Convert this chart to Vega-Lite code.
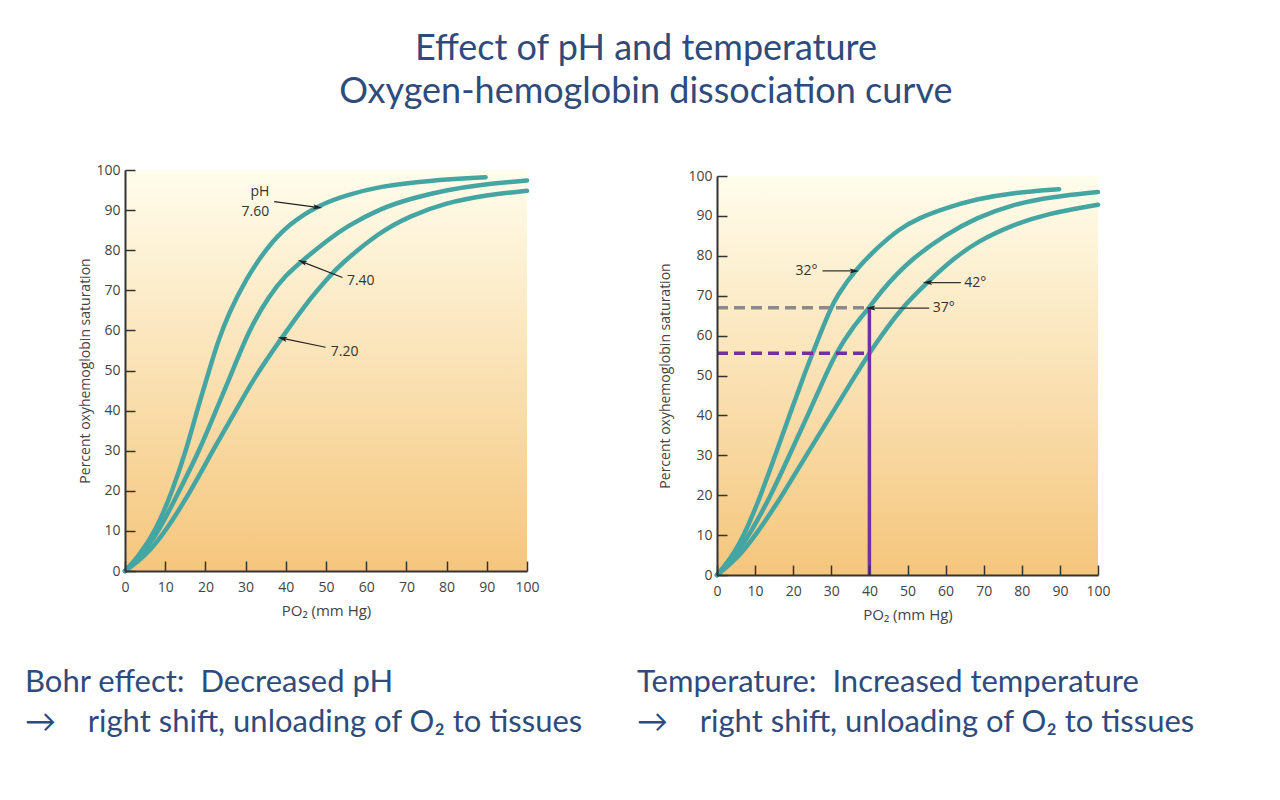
{
  "$schema": "https://vega.github.io/schema/vega-lite/v6.json",
  "background": "white",
  "padding": {"left": 25, "top": 31, "right": 10, "bottom": 10},
  "bounds": "flush",
  "spacing": 190,
  "title": {
    "text": ["Effect of pH and temperature", "Oxygen-hemoglobin dissociation curve"],
    "font": "Lato",
    "fontSize": 36,
    "fontWeight": "normal",
    "color": "#2F4B7C",
    "lineHeight": 43,
    "anchor": "middle",
    "dx": 36,
    "offset": 52
  },
  "datasets": {
    "ph": [
      {"po2": 0, "sat": 0, "ph": "7.60"}, {"po2": 3, "sat": 3.2, "ph": "7.60"}, {"po2": 7.7, "sat": 10, "ph": "7.60"}, {"po2": 11.8, "sat": 20, "ph": "7.60"}, {"po2": 15.2, "sat": 30, "ph": "7.60"}, {"po2": 17.9, "sat": 40, "ph": "7.60"}, {"po2": 20.5, "sat": 48.5, "ph": "7.60"}, {"po2": 23, "sat": 57, "ph": "7.60"}, {"po2": 25.9, "sat": 64.5, "ph": "7.60"}, {"po2": 30.1, "sat": 72.8, "ph": "7.60"}, {"po2": 35, "sat": 80.3, "ph": "7.60"}, {"po2": 40.8, "sat": 86.6, "ph": "7.60"}, {"po2": 48.3, "sat": 91.3, "ph": "7.60"}, {"po2": 55, "sat": 93.7, "ph": "7.60"}, {"po2": 63.2, "sat": 95.9, "ph": "7.60"}, {"po2": 75.6, "sat": 97.4, "ph": "7.60"}, {"po2": 89.7, "sat": 98.2, "ph": "7.60"},
      {"po2": 0, "sat": 0, "ph": "7.40"}, {"po2": 4, "sat": 3.8, "ph": "7.40"}, {"po2": 8.5, "sat": 10, "ph": "7.40"}, {"po2": 13.5, "sat": 20, "ph": "7.40"}, {"po2": 18.5, "sat": 30, "ph": "7.40"}, {"po2": 22.6, "sat": 40, "ph": "7.40"}, {"po2": 26, "sat": 48, "ph": "7.40"}, {"po2": 30.9, "sat": 60.3, "ph": "7.40"}, {"po2": 35.9, "sat": 68.7, "ph": "7.40"}, {"po2": 40, "sat": 73.8, "ph": "7.40"}, {"po2": 44.1, "sat": 77.4, "ph": "7.40"}, {"po2": 50.8, "sat": 82.8, "ph": "7.40"}, {"po2": 55, "sat": 85.8, "ph": "7.40"}, {"po2": 63.2, "sat": 90.3, "ph": "7.40"}, {"po2": 71.5, "sat": 93, "ph": "7.40"}, {"po2": 80, "sat": 95, "ph": "7.40"}, {"po2": 88, "sat": 96.3, "ph": "7.40"}, {"po2": 100, "sat": 97.4, "ph": "7.40"},
      {"po2": 0, "sat": 0, "ph": "7.20"}, {"po2": 5, "sat": 3.6, "ph": "7.20"}, {"po2": 10.2, "sat": 10, "ph": "7.20"}, {"po2": 16.4, "sat": 20, "ph": "7.20"}, {"po2": 21.8, "sat": 30, "ph": "7.20"}, {"po2": 27.6, "sat": 40, "ph": "7.20"}, {"po2": 32, "sat": 48, "ph": "7.20"}, {"po2": 39.2, "sat": 58.5, "ph": "7.20"}, {"po2": 46.6, "sat": 68.7, "ph": "7.20"}, {"po2": 50.8, "sat": 73.4, "ph": "7.20"}, {"po2": 53.2, "sat": 76.1, "ph": "7.20"}, {"po2": 63.2, "sat": 84.5, "ph": "7.20"}, {"po2": 71, "sat": 88.6, "ph": "7.20"}, {"po2": 79.8, "sat": 91.8, "ph": "7.20"}, {"po2": 90, "sat": 93.8, "ph": "7.20"}, {"po2": 100, "sat": 94.8, "ph": "7.20"}
    ],
    "temp": [
      {"po2": 0, "sat": 0, "t": "32"}, {"po2": 3.5, "sat": 4, "t": "32"}, {"po2": 7.2, "sat": 10, "t": "32"}, {"po2": 11.5, "sat": 20, "t": "32"}, {"po2": 15.3, "sat": 30, "t": "32"}, {"po2": 19, "sat": 40, "t": "32"}, {"po2": 22.8, "sat": 50, "t": "32"}, {"po2": 25.1, "sat": 55.6, "t": "32"}, {"po2": 26.9, "sat": 60, "t": "32"}, {"po2": 29.9, "sat": 67, "t": "32"}, {"po2": 31.6, "sat": 70, "t": "32"}, {"po2": 36, "sat": 76.2, "t": "32"}, {"po2": 42.6, "sat": 82.5, "t": "32"}, {"po2": 47.8, "sat": 86.7, "t": "32"}, {"po2": 53, "sat": 89.5, "t": "32"}, {"po2": 60.1, "sat": 92, "t": "32"}, {"po2": 68, "sat": 94.2, "t": "32"}, {"po2": 77.6, "sat": 95.8, "t": "32"}, {"po2": 89.8, "sat": 96.7, "t": "32"},
      {"po2": 0, "sat": 0, "t": "37"}, {"po2": 4, "sat": 3.8, "t": "37"}, {"po2": 8.5, "sat": 10, "t": "37"}, {"po2": 14.2, "sat": 20, "t": "37"}, {"po2": 19, "sat": 30, "t": "37"}, {"po2": 23.8, "sat": 40, "t": "37"}, {"po2": 28, "sat": 49, "t": "37"}, {"po2": 31.2, "sat": 55.6, "t": "37"}, {"po2": 35.5, "sat": 62, "t": "37"}, {"po2": 40, "sat": 67, "t": "37"}, {"po2": 42.6, "sat": 70.6, "t": "37"}, {"po2": 50, "sat": 78.5, "t": "37"}, {"po2": 60.1, "sat": 85.4, "t": "37"}, {"po2": 68, "sat": 89.5, "t": "37"}, {"po2": 77.6, "sat": 92.9, "t": "37"}, {"po2": 88, "sat": 94.8, "t": "37"}, {"po2": 100, "sat": 96, "t": "37"},
      {"po2": 0, "sat": 0, "t": "42"}, {"po2": 5, "sat": 3.8, "t": "42"}, {"po2": 10.2, "sat": 10, "t": "42"}, {"po2": 17.2, "sat": 20, "t": "42"}, {"po2": 23.4, "sat": 30, "t": "42"}, {"po2": 29.9, "sat": 40, "t": "42"}, {"po2": 35.6, "sat": 49, "t": "42"}, {"po2": 40, "sat": 55.6, "t": "42"}, {"po2": 42.6, "sat": 59.2, "t": "42"}, {"po2": 48, "sat": 66.5, "t": "42"}, {"po2": 55.7, "sat": 73.8, "t": "42"}, {"po2": 62, "sat": 79.3, "t": "42"}, {"po2": 68.8, "sat": 83.8, "t": "42"}, {"po2": 77, "sat": 87.5, "t": "42"}, {"po2": 86.3, "sat": 90.5, "t": "42"}, {"po2": 100, "sat": 92.8, "t": "42"}
    ],
    "phText": [
      {"label": "pH", "x": 35.9, "y": 94.6, "side": "right"},
      {"label": "7.60", "x": 35.9, "y": 89.6, "side": "right"},
      {"label": "7.40", "x": 55.2, "y": 72.4, "side": "left"},
      {"label": "7.20", "x": 51.2, "y": 54.7, "side": "left"}
    ],
    "phArrows": [
      {"label": "7.60", "x": 37.1, "y": 92.1, "x2": 47.9, "y2": 90.7},
      {"label": "7.40", "x": 54.1, "y": 73.2, "x2": 44.1, "y2": 77.1},
      {"label": "7.20", "x": 49.9, "y": 55.8, "x2": 39.2, "y2": 58.0}
    ],
    "tText": [
      {"label": "32°", "x": 20.6, "y": 76.2},
      {"label": "42°", "x": 64.9, "y": 73.3},
      {"label": "37°", "x": 56.6, "y": 66.9}
    ],
    "tArrows": [
      {"label": "32°", "x": 27.7, "y": 76.2, "x2": 36.0, "y2": 76.2, "dir": "right"},
      {"label": "42°", "x": 64.0, "y": 73.3, "x2": 55.3, "y2": 73.3, "dir": "left"},
      {"label": "37°", "x": 55.7, "y": 66.9, "x2": 40.4, "y2": 66.9, "dir": "left"}
    ],
    "guides": [
      {"kind": "gray", "x": 0, "y": 67, "x2": 40, "y2": 67},
      {"kind": "purple", "x": 0, "y": 55.6, "x2": 40, "y2": 55.6}
    ],
    "vguide": [
      {"x": 40, "y": 0, "y2": 67}
    ]
  },
  "config": {
    "view": {"stroke": null},
    "axis": {
      "grid": false,
      "zindex": 1,
      "domainColor": "#333333",
      "domainWidth": 2,
      "tickColor": "#333333",
      "tickWidth": 1.5,
      "labelFont": "Open Sans",
      "labelFontSize": 14,
      "labelColor": "#444444",
      "titleFont": "Open Sans",
      "titleFontSize": 14,
      "titleFontWeight": "normal",
      "titleColor": "#444444"
    },
    "axisX": {"tickSize": -10, "labelPadding": 19, "titlePadding": 9, "titleFontSize": 15, "values": [0, 10, 20, 30, 40, 50, 60, 70, 80, 90, 100], "labelFlush": false},
    "axisY": {"tickSize": -10, "labelPadding": 15, "titlePadding": 3, "values": [0, 10, 20, 30, 40, 50, 60, 70, 80, 90, 100]}
  },
  "hconcat": [
    {
      "width": 402,
      "height": 401,
      "title": {
        "text": ["Bohr effect:\u00a0 Decreased pH", "\u2192\u00a0\u00a0\u00a0\u00a0right shift, unloading of O\u2082 to tissues"],
        "orient": "bottom",
        "anchor": "start",
        "frame": "group",
        "dx": -100,
        "font": "Lato",
        "fontSize": 31,
        "fontWeight": "normal",
        "color": "#2F4B7C",
        "lineHeight": 40,
        "offset": 50
      },
      "layer": [
        {
          "data": {"values": [{}]},
          "mark": {"type": "rect", "fill": {"gradient": "linear", "x1": 0, "y1": 0, "x2": 0, "y2": 1, "stops": [{"offset": 0, "color": "#FFFDEC"}, {"offset": 1, "color": "#F5C67C"}]}},
          "encoding": {
            "x": {"datum": 0, "type": "quantitative", "scale": {"domain": [0, 100], "nice": false}, "title": "PO\u2082 (mm Hg)", "axis": {"zindex": 1}},
            "x2": {"datum": 100},
            "y": {"datum": 0, "type": "quantitative", "scale": {"domain": [0, 100], "nice": false}, "title": "Percent oxyhemoglobin saturation", "axis": {"zindex": 1}},
            "y2": {"datum": 100}
          }
        },
        {
          "data": {"name": "ph"},
          "mark": {"type": "line", "color": "#44A5A2", "strokeWidth": 4.5, "interpolate": "basis", "strokeCap": "round"},
          "encoding": {
            "x": {"field": "po2", "type": "quantitative", "title": "PO\u2082 (mm Hg)"},
            "y": {"field": "sat", "type": "quantitative", "title": "Percent oxyhemoglobin saturation"},
            "detail": {"field": "ph"}
          }
        },
        {
          "data": {"name": "phArrows"},
          "mark": {"type": "rule", "color": "#222222", "strokeWidth": 1.2},
          "encoding": {
            "x": {"field": "x", "type": "quantitative", "title": "PO\u2082 (mm Hg)"},
            "y": {"field": "y", "type": "quantitative", "title": "Percent oxyhemoglobin saturation"},
            "x2": {"field": "x2"},
            "y2": {"field": "y2"}
          }
        },
        {
          "data": {"name": "phArrows"},
          "transform": [{"filter": "datum.label == '7.60'"}],
          "mark": {"type": "point", "shape": "M0,-1L0.5,0.9L0,0.5L-0.5,0.9Z", "filled": true, "color": "#222222", "opacity": 1, "size": 100, "angle": 98},
          "encoding": {"x": {"field": "x2", "type": "quantitative", "title": "PO\u2082 (mm Hg)"}, "y": {"field": "y2", "type": "quantitative", "title": "Percent oxyhemoglobin saturation"}}
        },
        {
          "data": {"name": "phArrows"},
          "transform": [{"filter": "datum.label == '7.40'"}],
          "mark": {"type": "point", "shape": "M0,-1L0.5,0.9L0,0.5L-0.5,0.9Z", "filled": true, "color": "#222222", "opacity": 1, "size": 100, "angle": 292},
          "encoding": {"x": {"field": "x2", "type": "quantitative", "title": "PO\u2082 (mm Hg)"}, "y": {"field": "y2", "type": "quantitative", "title": "Percent oxyhemoglobin saturation"}}
        },
        {
          "data": {"name": "phArrows"},
          "transform": [{"filter": "datum.label == '7.20'"}],
          "mark": {"type": "point", "shape": "M0,-1L0.5,0.9L0,0.5L-0.5,0.9Z", "filled": true, "color": "#222222", "opacity": 1, "size": 100, "angle": 284},
          "encoding": {"x": {"field": "x2", "type": "quantitative", "title": "PO\u2082 (mm Hg)"}, "y": {"field": "y2", "type": "quantitative", "title": "Percent oxyhemoglobin saturation"}}
        },
        {
          "data": {"name": "phText"},
          "transform": [{"filter": "datum.side == 'right'"}],
          "mark": {"type": "text", "align": "right", "baseline": "middle", "font": "Open Sans", "fontSize": 14, "color": "#333333"},
          "encoding": {"x": {"field": "x", "type": "quantitative", "title": "PO\u2082 (mm Hg)"}, "y": {"field": "y", "type": "quantitative", "title": "Percent oxyhemoglobin saturation"}, "text": {"field": "label"}}
        },
        {
          "data": {"name": "phText"},
          "transform": [{"filter": "datum.side == 'left'"}],
          "mark": {"type": "text", "align": "left", "baseline": "middle", "font": "Open Sans", "fontSize": 14, "color": "#333333"},
          "encoding": {"x": {"field": "x", "type": "quantitative", "title": "PO\u2082 (mm Hg)"}, "y": {"field": "y", "type": "quantitative", "title": "Percent oxyhemoglobin saturation"}, "text": {"field": "label"}}
        }
      ]
    },
    {
      "bounds": "flush",
      "spacing": 5,
      "vconcat": [
        {
          "width": 381,
          "height": 1,
          "data": {"values": []},
          "mark": {"type": "rule", "opacity": 0},
          "encoding": {}
        },
        {
          "width": 381,
          "height": 399,
          "title": {
            "text": ["Temperature:\u00a0 Increased temperature", "\u2192\u00a0\u00a0\u00a0\u00a0right shift, unloading of O\u2082 to tissues"],
            "orient": "bottom",
            "anchor": "start",
            "frame": "group",
            "dx": -80,
            "font": "Lato",
            "fontSize": 31,
            "fontWeight": "normal",
            "color": "#2F4B7C",
            "lineHeight": 40,
            "offset": 46
          },
          "layer": [
            {
              "data": {"values": [{}]},
              "mark": {"type": "rect", "fill": {"gradient": "linear", "x1": 0, "y1": 0, "x2": 0, "y2": 1, "stops": [{"offset": 0, "color": "#FFFDEC"}, {"offset": 1, "color": "#F5C67C"}]}},
              "encoding": {
                "x": {"datum": 0, "type": "quantitative", "scale": {"domain": [0, 100], "nice": false}, "title": "PO\u2082 (mm Hg)", "axis": {"zindex": 1}},
                "x2": {"datum": 100},
                "y": {"datum": 0, "type": "quantitative", "scale": {"domain": [0, 100], "nice": false}, "title": "Percent oxyhemoglobin saturation", "axis": {"titlePadding": 15, "zindex": 1}},
                "y2": {"datum": 100}
              }
            },
            {
              "data": {"name": "temp"},
              "mark": {"type": "line", "color": "#44A5A2", "strokeWidth": 4.5, "interpolate": "basis", "strokeCap": "round"},
              "encoding": {
                "x": {"field": "po2", "type": "quantitative", "title": "PO\u2082 (mm Hg)"},
                "y": {"field": "sat", "type": "quantitative", "title": "Percent oxyhemoglobin saturation"},
                "detail": {"field": "t"}
              }
            },
            {
              "data": {"name": "guides"},
              "mark": {"type": "rule", "strokeWidth": 3.5, "strokeDash": [11, 6]},
              "encoding": {
                "x": {"field": "x", "type": "quantitative", "title": "PO\u2082 (mm Hg)"},
                "y": {"field": "y", "type": "quantitative", "title": "Percent oxyhemoglobin saturation"},
                "x2": {"field": "x2"},
                "y2": {"field": "y2"},
                "color": {"field": "kind", "type": "nominal", "scale": {"domain": ["gray", "purple"], "range": ["#8A8A8A", "#7030A0"]}, "legend": null}
              }
            },
            {
              "data": {"name": "vguide"},
              "mark": {"type": "rule", "strokeWidth": 3.5, "color": "#7030A0"},
              "encoding": {
                "x": {"field": "x", "type": "quantitative", "title": "PO\u2082 (mm Hg)"},
                "y": {"field": "y", "type": "quantitative", "title": "Percent oxyhemoglobin saturation"},
                "y2": {"field": "y2"}
              }
            },
            {
              "data": {"name": "tArrows"},
              "mark": {"type": "rule", "color": "#333333", "strokeWidth": 1.2},
              "encoding": {
                "x": {"field": "x", "type": "quantitative", "title": "PO\u2082 (mm Hg)"},
                "y": {"field": "y", "type": "quantitative", "title": "Percent oxyhemoglobin saturation"},
                "x2": {"field": "x2"},
                "y2": {"field": "y2"}
              }
            },
            {
              "data": {"name": "tArrows"},
              "transform": [{"filter": "datum.dir == 'right'"}],
              "mark": {"type": "point", "shape": "M0,-1L0.5,0.9L0,0.5L-0.5,0.9Z", "filled": true, "color": "#222222", "opacity": 1, "size": 100, "angle": 90},
              "encoding": {"x": {"field": "x2", "type": "quantitative", "title": "PO\u2082 (mm Hg)"}, "y": {"field": "y2", "type": "quantitative", "title": "Percent oxyhemoglobin saturation"}}
            },
            {
              "data": {"name": "tArrows"},
              "transform": [{"filter": "datum.dir == 'left'"}],
              "mark": {"type": "point", "shape": "M0,-1L0.5,0.9L0,0.5L-0.5,0.9Z", "filled": true, "color": "#222222", "opacity": 1, "size": 100, "angle": 270},
              "encoding": {"x": {"field": "x2", "type": "quantitative", "title": "PO\u2082 (mm Hg)"}, "y": {"field": "y2", "type": "quantitative", "title": "Percent oxyhemoglobin saturation"}}
            },
            {
              "data": {"name": "tText"},
              "mark": {"type": "text", "align": "left", "baseline": "middle", "font": "Open Sans", "fontSize": 14, "color": "#333333"},
              "encoding": {"x": {"field": "x", "type": "quantitative", "title": "PO\u2082 (mm Hg)"}, "y": {"field": "y", "type": "quantitative", "title": "Percent oxyhemoglobin saturation"}, "text": {"field": "label"}}
            }
          ]
        }
      ]
    }
  ]
}
